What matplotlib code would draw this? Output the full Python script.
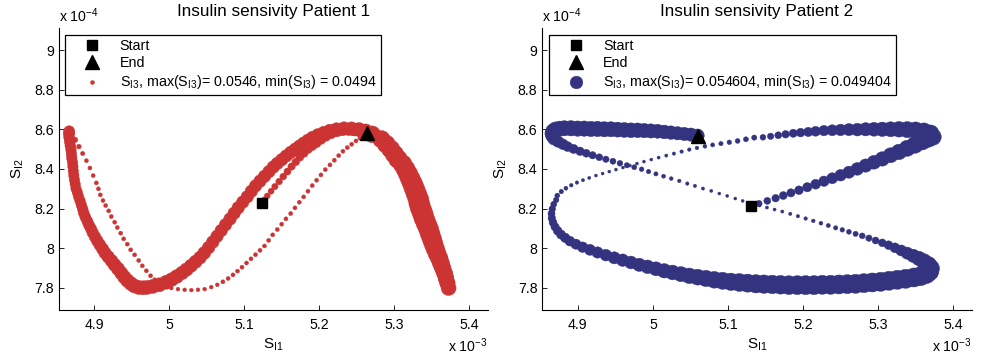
import numpy as np
import matplotlib.pyplot as plt
from matplotlib.ticker import FuncFormatter

plt.rcParams['font.family'] = ['Liberation Sans', 'DejaVu Sans']
plt.rcParams['mathtext.fontset'] = 'custom'
plt.rcParams['mathtext.rm'] = 'Liberation Sans'
plt.rcParams['mathtext.it'] = 'Liberation Sans:italic'

DPI = 100

# Trajectories of the insulin sensitivities, stored per stretch of the path.
# S_I1 in units of 1e-3, S_I2 in units of 1e-4, S_I3 as is.

# ---------------- Patient 1 ----------------
p1_rise_si1 = [5.1236, 5.1270, 5.1307, 5.1358, 5.1409, 5.1465, 5.1520, 5.1576, 5.1631, 5.1687,
               5.1742, 5.1798, 5.1853, 5.1909, 5.1965, 5.2025, 5.2090, 5.2160, 5.2235, 5.2310,
               5.2390, 5.2470, 5.2550, 5.2620]
p1_rise_si2 = [8.2275, 8.2460, 8.2645, 8.2880, 8.3115, 8.3368, 8.3620, 8.3872, 8.4123, 8.4358,
               8.4593, 8.4795, 8.4996, 8.5150, 8.5299, 8.5480, 8.5650, 8.5790, 8.5900, 8.5970,
               8.6000, 8.5990, 8.5950, 8.5880]
p1_rise_si3 = [0.04996, 0.05005, 0.05014, 0.05024, 0.05033, 0.05042, 0.05051, 0.05061, 0.05070, 0.05079,
               0.05089, 0.05098, 0.05107, 0.05116, 0.05126, 0.05144, 0.05163, 0.05181, 0.05205, 0.05228,
               0.05251, 0.05274, 0.05298, 0.05321]

p1_down_si1 = [5.2695, 5.2820, 5.2885, 5.2945, 5.2995, 5.3045, 5.3104, 5.3143, 5.3175, 5.3203,
               5.3230, 5.3254, 5.3278, 5.3302, 5.3316, 5.3336, 5.3362, 5.3384, 5.3412, 5.3442,
               5.3465, 5.3490, 5.3514, 5.3538, 5.3564, 5.3595, 5.3619, 5.3644, 5.3669, 5.3689,
               5.3709, 5.3725]
p1_down_si2 = [8.575, 8.550, 8.525, 8.500, 8.475, 8.450, 8.425, 8.400, 8.375, 8.350,
               8.325, 8.300, 8.275, 8.250, 8.225, 8.200, 8.175, 8.150, 8.125, 8.100,
               8.075, 8.050, 8.025, 8.000, 7.975, 7.950, 7.925, 7.900, 7.875, 7.850,
               7.825, 7.800]
p1_down_si3 = [0.05344, 0.05367, 0.05390, 0.05414, 0.05437, 0.0546, 0.0546, 0.0546, 0.0546, 0.0546,
               0.0546, 0.0546, 0.0546, 0.0546, 0.0546, 0.0546, 0.0546, 0.0546, 0.0546, 0.0546,
               0.0546, 0.0546, 0.05455, 0.05442, 0.05430, 0.05418, 0.05405, 0.05390, 0.05378, 0.05368,
               0.05358, 0.05350]

p1_up_si1 = [5.3710, 5.3691, 5.3673, 5.3650, 5.3627, 5.3605, 5.3576, 5.3552, 5.3530, 5.3510,
             5.3489, 5.3469, 5.3442, 5.3417, 5.3398, 5.3374, 5.3354, 5.3339, 5.3313, 5.3287,
             5.3260, 5.3228, 5.3195, 5.3158, 5.3116, 5.3055, 5.3005, 5.2955, 5.2895, 5.2830,
             5.2705]
p1_up_si2 = [7.825, 7.850, 7.875, 7.900, 7.925, 7.950, 7.975, 8.000, 8.025, 8.050,
             8.075, 8.100, 8.125, 8.150, 8.175, 8.200, 8.225, 8.250, 8.275, 8.300,
             8.325, 8.350, 8.375, 8.400, 8.425, 8.450, 8.475, 8.500, 8.525, 8.550,
             8.575]
p1_up_si3 = [0.05358, 0.05368, 0.05378, 0.05390, 0.05405, 0.05418, 0.05430, 0.05442, 0.05455, 0.0546,
             0.0546, 0.0546, 0.0546, 0.0546, 0.0546, 0.0546, 0.0546, 0.0546, 0.0546, 0.0546,
             0.0546, 0.0546, 0.0546, 0.0546, 0.0546, 0.0546, 0.0546, 0.0546, 0.0546, 0.05437,
             0.05414]

p1_back_si1 = [5.2620, 5.2530, 5.2430, 5.2330, 5.2230, 5.2140, 5.2060, 5.1980, 5.1910, 5.1850,
               5.1790, 5.1735, 5.1680, 5.1620, 5.1560, 5.1500, 5.1440, 5.1387, 5.1330, 5.1270,
               5.1210, 5.1151, 5.1095, 5.1040, 5.0980, 5.0920, 5.0865, 5.0810, 5.0750, 5.0693,
               5.0637, 5.0580, 5.0525, 5.0467, 5.0410, 5.0350, 5.0290, 5.0230, 5.0170, 5.0100,
               5.0030, 4.9960, 4.9867, 4.9780, 4.9705, 4.9649, 4.9590, 4.9530, 4.9485, 4.9440,
               4.9400, 4.9360, 4.9316, 4.9270, 4.9230, 4.9185, 4.9143, 4.9110, 4.9075, 4.9040,
               4.9009, 4.8980, 4.8957, 4.8930, 4.8907, 4.8880, 4.8860, 4.8845, 4.8827, 4.8810,
               4.8790, 4.8775, 4.8756, 4.8745, 4.8735, 4.8727, 4.8720, 4.8715, 4.8710, 4.8700,
               4.8695, 4.8690, 4.8680, 4.8672, 4.8665, 4.8660, 4.8665]
p1_back_si2 = [8.592, 8.600, 8.604, 8.605, 8.601, 8.594, 8.584, 8.572, 8.559, 8.545,
               8.530, 8.515, 8.500, 8.484, 8.466, 8.447, 8.428, 8.410, 8.387, 8.363,
               8.339, 8.315, 8.288, 8.260, 8.233, 8.205, 8.177, 8.148, 8.119, 8.090,
               8.061, 8.032, 8.004, 7.977, 7.953, 7.932, 7.912, 7.893, 7.876, 7.858,
               7.842, 7.829, 7.816, 7.808, 7.803, 7.801, 7.803, 7.811, 7.823, 7.838,
               7.855, 7.875, 7.897, 7.917, 7.937, 7.957, 7.977, 7.997, 8.017, 8.038,
               8.058, 8.078, 8.098, 8.117, 8.137, 8.158, 8.178, 8.198, 8.219, 8.240,
               8.260, 8.281, 8.301, 8.324, 8.346, 8.368, 8.390, 8.412, 8.433, 8.454,
               8.475, 8.496, 8.517, 8.538, 8.559, 8.578, 8.590]
p1_back_si3 = [0.05314, 0.05300, 0.05290, 0.05280, 0.05270, 0.05265, 0.05260, 0.05260, 0.05259, 0.05259,
               0.05259, 0.05259, 0.05259, 0.05259, 0.05259, 0.05259, 0.05259, 0.05259, 0.05259, 0.05259,
               0.05259, 0.05259, 0.05259, 0.05259, 0.05259, 0.05259, 0.05259, 0.05259, 0.05259, 0.05259,
               0.05259, 0.05265, 0.05265, 0.05275, 0.05275, 0.05285, 0.05285, 0.05295, 0.05295, 0.05305,
               0.05305, 0.05314, 0.05314, 0.05314, 0.05314, 0.05314, 0.05314, 0.05310, 0.05305, 0.05300,
               0.05295, 0.05290, 0.05290, 0.05280, 0.05270, 0.05262, 0.05255, 0.05248, 0.05240, 0.05233,
               0.05226, 0.05220, 0.05214, 0.05208, 0.05203, 0.05198, 0.05194, 0.05190, 0.05186, 0.05183,
               0.05180, 0.05180, 0.05180, 0.05180, 0.05180, 0.05180, 0.05180, 0.05180, 0.05182, 0.05184,
               0.05186, 0.05189, 0.05192, 0.05196, 0.05200, 0.05205, 0.05210]

p1_tail_si1 = [4.8694, 4.8745, 4.8795, 4.8845, 4.8895, 4.8942, 4.8985, 4.9027, 4.9055, 4.9080,
               4.9116, 4.9152, 4.9192, 4.9227, 4.9272, 4.9307, 4.9352, 4.9392, 4.9440, 4.9485,
               4.9538, 4.9592, 4.9640, 4.9694, 4.9751, 4.9805, 4.9872, 4.9947, 5.0027, 5.0116,
               5.0205, 5.0294, 5.0383, 5.0472, 5.0560, 5.0640, 5.0715, 5.0785, 5.0850, 5.0910,
               5.0970, 5.1030, 5.1090, 5.1150, 5.1210, 5.1270, 5.1325, 5.1379, 5.1441, 5.1499,
               5.1556, 5.1619, 5.1676, 5.1734, 5.1792, 5.1850, 5.1907, 5.1965, 5.2023, 5.2081,
               5.2143, 5.2201, 5.2259, 5.2316, 5.2374, 5.2432, 5.2490, 5.2543, 5.2632]
p1_tail_si2 = [8.5801, 8.5470, 8.5130, 8.4780, 8.4420, 8.4050, 8.3670, 8.3300, 8.3000, 8.2695,
               8.2410, 8.2158, 8.1889, 8.1604, 8.1318, 8.1049, 8.0764, 8.0478, 8.0210, 7.9924,
               7.9672, 7.9387, 7.9118, 7.8866, 7.8615, 7.8413, 7.8211, 7.8077, 7.7993, 7.7943,
               7.7909, 7.7892, 7.7909, 7.7943, 7.8044, 7.8161, 7.8310, 7.8480, 7.8660, 7.8850,
               7.9050, 7.9260, 7.9470, 7.9680, 7.9900, 8.0120, 8.0400, 8.0680, 8.0948, 8.1217,
               8.1486, 8.1754, 8.2040, 8.2325, 8.2594, 8.2880, 8.3165, 8.3434, 8.3702, 8.3970,
               8.4206, 8.4441, 8.4676, 8.4895, 8.5080, 8.5247, 8.5415, 8.5550, 8.5801]
p1_tail_si3 = [0.05042, 0.04996, 0.04973, 0.04959, 0.04949, 0.04949, 0.04949, 0.04949, 0.04949, 0.04949,
               0.04949, 0.04949, 0.04949, 0.04949, 0.04949, 0.04949, 0.04949, 0.04949, 0.04949, 0.04949,
               0.04949, 0.04949, 0.04949, 0.04949, 0.04949, 0.04949, 0.04949, 0.0494, 0.0494, 0.0494,
               0.0494, 0.0494, 0.0494, 0.0494, 0.0494, 0.0494, 0.04949, 0.04949, 0.04949, 0.04949,
               0.04949, 0.04949, 0.04949, 0.04949, 0.04949, 0.04949, 0.04949, 0.04949, 0.04949, 0.04949,
               0.04949, 0.04949, 0.04949, 0.04949, 0.04949, 0.04949, 0.04949, 0.04949, 0.04949, 0.04949,
               0.04949, 0.04949, 0.04949, 0.04949, 0.04949, 0.04949, 0.04949, 0.04949, 0.04949]

# ---------------- Patient 2 ----------------
p2_rise_si1 = [5.1307, 5.1413, 5.1525, 5.1636, 5.1738, 5.1840, 5.1947, 5.2058, 5.2169, 5.2280,
               5.2391, 5.2502, 5.2613, 5.2725, 5.2836, 5.2947, 5.3058, 5.3169, 5.3280, 5.3391,
               5.3493, 5.3591, 5.3671, 5.3733]
p2_rise_si2 = [8.2157, 8.2258, 8.2393, 8.2527, 8.2661, 8.2796, 8.2930, 8.3081, 8.3232, 8.3383,
               8.3534, 8.3685, 8.3837, 8.4005, 8.4173, 8.4340, 8.4508, 8.4693, 8.4861, 8.5046,
               8.5214, 8.5382, 8.5516, 8.5617]
p2_rise_si3 = [0.050518, 0.050518, 0.050704, 0.050890, 0.051001, 0.051113, 0.051261, 0.051447, 0.051633, 0.051818,
               0.052004, 0.052190, 0.052375, 0.052561, 0.052747, 0.052932, 0.053118, 0.053304, 0.053490, 0.053675,
               0.053861, 0.053861, 0.053861, 0.053861]

p2_over_si1 = [5.3702, 5.3613, 5.3502, 5.3391, 5.3280, 5.3169, 5.3058, 5.2947, 5.2836, 5.2725,
               5.2613, 5.2502, 5.2391, 5.2280, 5.2169, 5.2071, 5.1969, 5.1871, 5.1769, 5.1671,
               5.1569, 5.1467]
p2_over_si2 = [8.5801, 8.5902, 8.5953, 8.5986, 8.6003, 8.6003, 8.6003, 8.6003, 8.6003, 8.5986,
               8.5986, 8.5969, 8.5953, 8.5936, 8.5902, 8.5869, 8.5835, 8.5801, 8.5751, 8.5701,
               8.5650, 8.5600]
p2_over_si3 = [0.053861, 0.053861, 0.053861, 0.053675, 0.053490, 0.053304, 0.053118, 0.052932, 0.052747, 0.052561,
               0.052375, 0.052190, 0.052004, 0.051818, 0.051633, 0.051447, 0.051261, 0.051076, 0.050890, 0.050704,
               0.050518, 0.050333]

p2_cross_si1 = [5.1351, 5.1240, 5.1129, 5.1018, 5.0907, 5.0796, 5.0693, 5.0587, 5.0485, 5.0382,
                5.0280, 5.0178, 5.0076, 4.9978, 4.9880, 4.9787, 4.9693, 4.9600, 4.9507, 4.9418,
                4.9329, 4.9240, 4.9151, 4.9067, 4.8987, 4.8911, 4.8840, 4.8778, 4.8725, 4.8710,
                4.8678, 4.8658, 4.8648, 4.8652, 4.8668, 4.8695, 4.8730, 4.8775, 4.8830, 4.8893,
                4.8973, 4.9062, 4.9160, 4.9262, 4.9373, 4.9485, 4.9596, 4.9707, 4.9818, 4.9929,
                5.0040, 5.0151, 5.0262, 5.0374, 5.0485, 5.0596, 5.0707, 5.0818, 5.0929, 5.1040,
                5.1151, 5.1262, 5.1373]
p2_cross_si2 = [8.5583, 8.5499, 8.5415, 8.5348, 8.5281, 8.5214, 8.5146, 8.5063, 8.4979, 8.4878,
                8.4777, 8.4676, 8.4576, 8.4475, 8.4374, 8.4273, 8.4173, 8.4072, 8.3971, 8.3870,
                8.3770, 8.3669, 8.3551, 8.3434, 8.3316, 8.3182, 8.3031, 8.2863, 8.2661, 8.2443,
                8.2225, 8.1990, 8.1754, 8.1519, 8.1301, 8.1083, 8.0881, 8.0696, 8.0529, 8.0361,
                8.0209, 8.0058, 7.9924, 7.9790, 7.9655, 7.9521, 7.9403, 7.9286, 7.9168, 7.9068,
                7.8967, 7.8866, 7.8782, 7.8698, 7.8614, 7.8547, 7.8480, 7.8413, 7.8363, 7.8312,
                7.8278, 7.8245, 7.8211]
p2_cross_si3 = [0.050147, 0.050073, 0.049998, 0.049924, 0.049850, 0.049775, 0.049701, 0.049627, 0.049590, 0.049553,
                0.049515, 0.049478, 0.049441, 0.049404, 0.049404, 0.049404, 0.049404, 0.049404, 0.049404, 0.049404,
                0.049404, 0.049404, 0.049441, 0.049478, 0.049553, 0.049627, 0.049738, 0.049887, 0.050036, 0.050221,
                0.050407, 0.050593, 0.050741, 0.050890, 0.051001, 0.051113, 0.051261, 0.051373, 0.051484, 0.051633,
                0.051744, 0.051856, 0.052004, 0.052115, 0.052227, 0.052375, 0.052487, 0.052598, 0.052747, 0.052858,
                0.052970, 0.053118, 0.053230, 0.053341, 0.053490, 0.053601, 0.053713, 0.053861, 0.053973, 0.054084,
                0.054233, 0.054307, 0.054381]

p2_base_si1 = [5.1480, 5.1591, 5.1702, 5.1813, 5.1925, 5.2036, 5.2147, 5.2258, 5.2369, 5.2480,
               5.2591, 5.2702, 5.2813, 5.2925, 5.3036, 5.3147, 5.3258, 5.3369, 5.3480, 5.3569,
               5.3645, 5.3689, 5.3702]
p2_base_si2 = [7.8194, 7.8178, 7.8161, 7.8144, 7.8144, 7.8144, 7.8144, 7.8161, 7.8161, 7.8178,
               7.8194, 7.8211, 7.8245, 7.8278, 7.8312, 7.8363, 7.8413, 7.8463, 7.8530, 7.8597,
               7.8698, 7.8832, 7.8984]
p2_base_si3 = [0.054418, 0.054455, 0.054493, 0.054530, 0.054567, 0.054604, 0.054604, 0.054604, 0.054604, 0.054604,
               0.054604, 0.054604, 0.054604, 0.054604, 0.054604, 0.054604, 0.054604, 0.054604, 0.054604, 0.054604,
               0.054530, 0.054418, 0.054233]

p2_return_si1 = [5.3671, 5.3613, 5.3547, 5.3471, 5.3391, 5.3311, 5.3227, 5.3142, 5.3058, 5.2969,
                 5.2880, 5.2791, 5.2702, 5.2613, 5.2525, 5.2436, 5.2338, 5.2240, 5.2138, 5.2036,
                 5.1933, 5.1831, 5.1725, 5.1622, 5.1520, 5.1422,
                 5.1196, 5.1098, 5.0991, 5.0885, 5.0778, 5.0667, 5.0560, 5.0458, 5.0351, 5.0244,
                 5.0142, 5.0040, 4.9942, 4.9849, 4.9751, 4.9653, 4.9560, 4.9467, 4.9373, 4.9285,
                 4.9196, 4.9111, 4.9027, 4.8942, 4.8862, 4.8800, 4.8736, 4.8680, 4.8655, 4.8650,
                 4.8665, 4.8700, 4.8755]
p2_return_si2 = [7.9168, 7.9336, 7.9487, 7.9622, 7.9756, 7.9891, 8.0025, 8.0159, 8.0277, 8.0394,
                 8.0512, 8.0629, 8.0730, 8.0831, 8.0932, 8.1032, 8.1150, 8.1267, 8.1385, 8.1503,
                 8.1620, 8.1738, 8.1855, 8.1956, 8.2057, 8.2157,
                 8.2392, 8.2510, 8.2644, 8.2762, 8.2896, 8.3014, 8.3148, 8.3266, 8.3400, 8.3518,
                 8.3635, 8.3753, 8.3870, 8.3988, 8.4089, 8.4189, 8.4290, 8.4391, 8.4492, 8.4592,
                 8.4693, 8.4794, 8.4895, 8.5012, 8.5130, 8.5247, 8.5382, 8.5516, 8.5667, 8.5801,
                 8.5919, 8.6003, 8.6037]
p2_return_si3 = [0.053861, 0.053490, 0.053118, 0.052747, 0.052375, 0.052004, 0.051633, 0.051261, 0.050964, 0.050704,
                 0.050518, 0.050333, 0.050147, 0.050036, 0.049924, 0.049850, 0.049775, 0.049701, 0.049627, 0.049590,
                 0.049553, 0.049515, 0.049478, 0.049441, 0.049441, 0.049404,
                 0.049404, 0.049404, 0.049404, 0.049404, 0.049441, 0.049478, 0.049515, 0.049553, 0.049590, 0.049664,
                 0.049738, 0.049813, 0.049887, 0.049961, 0.050073, 0.050184, 0.050295, 0.050407, 0.050518, 0.050667,
                 0.050816, 0.051001, 0.051187, 0.051410, 0.051633, 0.051893, 0.052153, 0.052375, 0.052598, 0.052821,
                 0.053007, 0.053193, 0.053304]

p2_finish_si1 = [4.8818, 4.8907, 4.8996, 4.9084, 4.9173, 4.9262, 4.9351, 4.9440, 4.9529, 4.9618,
                 4.9707, 4.9796, 4.9884, 4.9973, 5.0062, 5.0151, 5.0240, 5.0329, 5.0418, 5.0507,
                 5.0596]
p2_finish_si2 = [8.6053, 8.6053, 8.6037, 8.6037, 8.6020, 8.6020, 8.6003, 8.6003, 8.5986, 8.5969,
                 8.5953, 8.5953, 8.5936, 8.5919, 8.5902, 8.5869, 8.5835, 8.5801, 8.5768, 8.5734,
                 8.5684]
p2_finish_si3 = [0.053378, 0.053416, 0.053416, 0.053416, 0.053416, 0.053416, 0.053378, 0.053341, 0.053304, 0.053267,
                 0.053230, 0.053193, 0.053118, 0.053044, 0.052970, 0.052895, 0.052821, 0.052747, 0.052747, 0.052747,
                 0.052747]

x_ticks = [4.9, 5.0, 5.1, 5.2, 5.3, 5.4]
y_ticks = [7.8, 8.0, 8.2, 8.4, 8.6, 8.8, 9.0]
titles = ['Insulin sensivity Patient 1', 'Insulin sensivity Patient 2']
colors = [(0.8, 0.2, 0.2), (0.2, 0.2, 0.5)]


def join(*parts):
    return np.concatenate([np.asarray(p, dtype=float) for p in parts])


p1 = [join(p1_rise_si1, p1_down_si1, p1_up_si1, p1_back_si1, p1_tail_si1),
      join(p1_rise_si2, p1_down_si2, p1_up_si2, p1_back_si2, p1_tail_si2),
      join(p1_rise_si3, p1_down_si3, p1_up_si3, p1_back_si3, p1_tail_si3)]
p2 = [join(p2_rise_si1, p2_over_si1, p2_cross_si1, p2_base_si1, p2_return_si1, p2_finish_si1),
      join(p2_rise_si2, p2_over_si2, p2_cross_si2, p2_base_si2, p2_return_si2, p2_finish_si2),
      join(p2_rise_si3, p2_over_si3, p2_cross_si3, p2_base_si3, p2_return_si3, p2_finish_si3)]
for arrs in (p1, p2):
    assert len(arrs[0]) == len(arrs[1]) == len(arrs[2]), [len(a) for a in arrs]

fmt = FuncFormatter(lambda v, pos: '%g' % round(v, 6))
S3 = r'S$_{\mathrm{I3}}$'


def draw(ax, si1, si2, si3, color, title, d_lo, d_hi, legend_dot):
    # marker diameter in pixels grows linearly with S_I3
    d = d_lo + (si3 - si3.min()) / (si3.max() - si3.min()) * (d_hi - d_lo)
    sc = ax.scatter(si1, si2, s=(d * 72 / DPI) ** 2, color=color,
                    edgecolors='face', linewidths=0.3, zorder=2)
    h_start, = ax.plot(si1[0], si2[0], 's', color='k', ms=7, zorder=3)
    h_end, = ax.plot(si1[-1], si2[-1], '^', color='k', ms=10, zorder=3)

    label = '%s, max(%s)= %g, min(%s) = %g' % (S3, S3, si3.max(), S3, si3.min())
    leg = ax.legend([h_start, h_end, sc], ['Start', 'End', label],
                    loc='upper left', bbox_to_anchor=(0.0154, 0.975), borderaxespad=0,
                    fancybox=False, edgecolor='k', framealpha=1, fontsize=10.3,
                    numpoints=1, scatterpoints=1, handlelength=3.2, handletextpad=0.3,
                    borderpad=0.3, labelspacing=0.2)
    leg.get_frame().set_linewidth(0.9)
    leg.legend_handles[2].set_sizes([(legend_dot * 72 / DPI) ** 2])

    ax.set_xlim(4.8525, 5.425)
    ax.set_ylim(7.689, 9.111)
    ax.set_xticks(x_ticks)
    ax.set_yticks(y_ticks)
    ax.xaxis.set_major_formatter(fmt)
    ax.yaxis.set_major_formatter(fmt)
    for side in ('top', 'right'):
        ax.spines[side].set_visible(False)
    for side in ('left', 'bottom'):
        ax.spines[side].set_linewidth(0.8)
    ax.tick_params(direction='in', length=3.4, width=0.6, labelsize=10.2)
    ax.tick_params(axis='x', pad=6)
    ax.tick_params(axis='y', pad=3.5)

    ax.set_title(title, fontsize=12.3, pad=8.5)
    ax.set_xlabel(r'S$_{\mathrm{I1}}$', fontsize=11, labelpad=3)
    ax.set_ylabel(r'S$_{\mathrm{I2}}$', fontsize=11, labelpad=6)
    ax.text(0.0, 1.022, r'x 10$^{-4}$', transform=ax.transAxes, ha='left', va='baseline', fontsize=10.2)
    ax.text(1.0, -0.148, r'x 10$^{-3}$', transform=ax.transAxes, ha='right', va='baseline', fontsize=10.2)


fig = plt.figure(figsize=(9.81, 3.59), dpi=DPI)
ax1 = fig.add_axes([0.0598, 0.1365, 0.4376, 0.7855])
ax2 = fig.add_axes([0.5528, 0.1365, 0.4377, 0.7855])

draw(ax1, p1[0], p1[1], p1[2], colors[0], titles[0], 3.8, 18.0, 4.0)
draw(ax2, p2[0], p2[1], p2[2], colors[1], titles[1], 3.0, 19.0, 12.7)

fig.savefig('out.png', dpi=DPI)
